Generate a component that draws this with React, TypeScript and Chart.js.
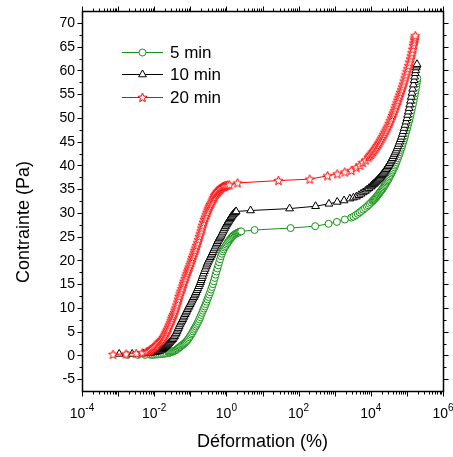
import React, { useEffect, useRef } from 'react';
import { Chart, registerables } from 'chart.js';

Chart.register(...registerables);

const seriesLabels = ['5 min', '10 min', '20 min'];
const seriesColors = ['#149414', '#000000', '#ff0000'];

// Each entry: [log10 of strain (%), stress (Pa)]
const curve5min: [number, number][] = [
  [-2.75, 0.1], [-2.45, 0.1], [-2.25, 0.1], [-2.10, 0.1], [-2.05, 0.12], [-2.00, 0.15], [-1.95, 0.18],
  [-1.90, 0.2], [-1.85, 0.25], [-1.80, 0.28], [-1.75, 0.32], [-1.70, 0.37], [-1.65, 0.42], [-1.60, 0.5],
  [-1.575, 0.57], [-1.55, 0.65], [-1.525, 0.72], [-1.50, 0.8], [-1.475, 0.87], [-1.45, 0.95], [-1.425, 1.02],
  [-1.40, 1.1], [-1.375, 1.25], [-1.35, 1.4], [-1.325, 1.55], [-1.30, 1.7], [-1.275, 1.85], [-1.25, 2.0],
  [-1.225, 2.15], [-1.20, 2.3], [-1.175, 2.45], [-1.15, 2.6], [-1.125, 2.8], [-1.10, 3.0], [-1.075, 3.25],
  [-1.05, 3.5], [-1.025, 3.8], [-1.00, 4.1], [-0.975, 4.4], [-0.95, 4.7], [-0.925, 5.05], [-0.90, 5.4],
  [-0.875, 5.75], [-0.85, 6.1], [-0.825, 6.45], [-0.80, 6.8], [-0.775, 7.2], [-0.75, 7.6], [-0.725, 8.05],
  [-0.70, 8.5], [-0.675, 8.95], [-0.65, 9.4], [-0.625, 9.85], [-0.60, 10.3], [-0.575, 10.8], [-0.55, 11.3],
  [-0.525, 11.8], [-0.50, 12.3], [-0.475, 12.8], [-0.45, 13.3], [-0.425, 13.85], [-0.40, 14.4], [-0.375, 15.0],
  [-0.35, 15.6], [-0.325, 16.3], [-0.30, 17.0], [-0.275, 17.65], [-0.25, 18.3], [-0.225, 18.95], [-0.20, 19.6],
  [-0.175, 20.25], [-0.15, 20.9], [-0.125, 21.4], [-0.10, 21.9], [-0.075, 22.3], [-0.05, 22.7], [-0.025, 23.0],
  [0.00, 23.3], [0.025, 23.6], [0.05, 23.9], [0.075, 24.15], [0.10, 24.4], [0.125, 24.65], [0.15, 24.9],
  [0.175, 25.1], [0.20, 25.3], [0.23, 25.45], [0.26, 25.6], [0.285, 25.7], [0.31, 25.8], [0.335, 25.9],
  [0.36, 26.0], [0.385, 26.05], [0.41, 26.1],
  [0.78, 26.4], [1.78, 26.8], [2.46, 27.2], [2.83, 27.7], [3.06, 28.1], [3.28, 28.6], [3.46, 29.0],
  [3.52, 29.2], [3.58, 29.5], [3.64, 29.8], [3.69, 30.1], [3.74, 30.4], [3.79, 30.7], [3.84, 31.0],
  [3.89, 31.3], [3.93, 31.6], [3.97, 31.9], [4.01, 32.2], [4.05, 32.5], [4.07, 32.65], [4.09, 32.8],
  [4.11, 32.95], [4.13, 33.1], [4.15, 33.3], [4.17, 33.5], [4.19, 33.7], [4.21, 33.9], [4.23, 34.1],
  [4.25, 34.3], [4.27, 34.5], [4.29, 34.7], [4.31, 34.9], [4.33, 35.1], [4.35, 35.35], [4.37, 35.6],
  [4.39, 35.85], [4.41, 36.1], [4.43, 36.35], [4.45, 36.6], [4.47, 36.85], [4.49, 37.1], [4.51, 37.4],
  [4.53, 37.7], [4.55, 38.0], [4.57, 38.3], [4.59, 38.6], [4.61, 38.9], [4.63, 39.25], [4.65, 39.6],
  [4.67, 39.95], [4.69, 40.3], [4.71, 40.7], [4.73, 41.1], [4.75, 41.5], [4.77, 41.9], [4.79, 42.35],
  [4.81, 42.8], [4.83, 43.25], [4.85, 43.7], [4.87, 44.2], [4.89, 44.7], [4.91, 45.2], [4.93, 45.7],
  [4.95, 46.25], [4.97, 46.8], [4.99, 47.35], [5.01, 47.9], [5.03, 48.5], [5.05, 49.1], [5.07, 49.7],
  [5.09, 50.3], [5.11, 50.95], [5.13, 51.6], [5.15, 52.3], [5.17, 53.0], [5.19, 53.75], [5.21, 54.5],
  [5.225, 55.15], [5.24, 55.8], [5.255, 56.5], [5.27, 57.2], [5.28, 57.75], [5.29, 58.3],
];

const curve10min: [number, number][] = [
  [-2.97, 0.3], [-2.61, 0.3], [-2.30, 0.4], [-2.15, 0.5], [-2.10, 0.55], [-2.05, 0.6], [-2.01, 0.65],
  [-1.97, 0.7], [-1.935, 0.77], [-1.90, 0.85], [-1.865, 0.92], [-1.83, 1.0], [-1.80, 1.15], [-1.77, 1.3],
  [-1.74, 1.5], [-1.71, 1.7], [-1.68, 1.9], [-1.65, 2.1], [-1.625, 2.3], [-1.60, 2.5], [-1.575, 2.7],
  [-1.55, 2.9], [-1.52, 3.15], [-1.49, 3.4], [-1.465, 3.7], [-1.44, 4.0], [-1.415, 4.35], [-1.39, 4.7],
  [-1.37, 5.05], [-1.35, 5.4], [-1.33, 5.75], [-1.31, 6.1], [-1.285, 6.5], [-1.26, 6.9], [-1.235, 7.25],
  [-1.21, 7.6], [-1.19, 7.95], [-1.17, 8.3], [-1.145, 8.65], [-1.12, 9.0], [-1.10, 9.35], [-1.08, 9.7],
  [-1.055, 10.05], [-1.03, 10.4], [-1.005, 10.75], [-0.98, 11.1], [-0.955, 11.5], [-0.93, 11.9], [-0.905, 12.25],
  [-0.88, 12.6], [-0.86, 12.95], [-0.84, 13.3], [-0.815, 13.7], [-0.79, 14.1], [-0.765, 14.55], [-0.74, 15.0],
  [-0.72, 15.4], [-0.70, 15.8], [-0.68, 16.25], [-0.66, 16.7], [-0.635, 17.2], [-0.61, 17.7], [-0.585, 18.2],
  [-0.56, 18.7], [-0.54, 19.1], [-0.52, 19.5], [-0.495, 19.9], [-0.47, 20.3], [-0.445, 20.65], [-0.42, 21.0],
  [-0.40, 21.35], [-0.38, 21.7], [-0.355, 22.1], [-0.33, 22.5], [-0.305, 22.9], [-0.28, 23.3], [-0.26, 23.65],
  [-0.24, 24.0], [-0.215, 24.35], [-0.19, 24.7], [-0.17, 24.95], [-0.15, 25.2], [-0.125, 25.6], [-0.10, 26.0],
  [-0.075, 26.4], [-0.05, 26.8], [-0.025, 27.15], [0.00, 27.5], [0.02, 27.75], [0.04, 28.0], [0.065, 28.3],
  [0.09, 28.6], [0.11, 28.85], [0.13, 29.1], [0.155, 29.35], [0.18, 29.6], [0.205, 29.8], [0.23, 30.0],
  [0.25, 30.15], [0.27, 30.3],
  [0.67, 30.5], [1.75, 30.9], [2.47, 31.4], [2.84, 31.9], [3.07, 32.3], [3.26, 32.6], [3.42, 33.0],
  [3.52, 33.2], [3.60, 33.4], [3.67, 33.7], [3.73, 34.0], [3.79, 34.3], [3.85, 34.6], [3.90, 34.9],
  [3.95, 35.2], [4.00, 35.5], [4.025, 35.7], [4.05, 35.9], [4.075, 36.05], [4.10, 36.2], [4.125, 36.4],
  [4.15, 36.6], [4.175, 36.8], [4.20, 37.0], [4.225, 37.2], [4.25, 37.4], [4.275, 37.65], [4.30, 37.9],
  [4.325, 38.15], [4.35, 38.4], [4.375, 38.65], [4.40, 38.9], [4.425, 39.2], [4.45, 39.5], [4.475, 39.8],
  [4.50, 40.1], [4.525, 40.45], [4.55, 40.8], [4.575, 41.15], [4.60, 41.5], [4.625, 41.9], [4.65, 42.3],
  [4.675, 42.7], [4.70, 43.1], [4.725, 43.55], [4.75, 44.0], [4.775, 44.5], [4.80, 45.0], [4.825, 45.5],
  [4.85, 46.0], [4.875, 46.6], [4.90, 47.2], [4.925, 47.85], [4.95, 48.5], [4.975, 49.2], [5.00, 49.9],
  [5.02, 50.6], [5.04, 51.3], [5.06, 52.05], [5.08, 52.8], [5.10, 53.6], [5.12, 54.4], [5.14, 55.25],
  [5.16, 56.1], [5.18, 57.0], [5.20, 57.9], [5.215, 58.65], [5.23, 59.4], [5.245, 60.0], [5.26, 60.6],
  [5.27, 61.0], [5.28, 61.3],
];

const curve20min: [number, number][] = [
  [-3.14, 0.2], [-2.78, 0.3], [-2.50, 0.4], [-2.33, 0.5], [-2.22, 0.7], [-2.18, 0.8], [-2.14, 0.9],
  [-2.105, 1.1], [-2.07, 1.3], [-2.04, 1.5], [-2.01, 1.7], [-1.98, 1.85], [-1.95, 2.0], [-1.92, 2.3],
  [-1.89, 2.6], [-1.86, 2.8], [-1.83, 3.0], [-1.80, 3.2], [-1.77, 3.4], [-1.745, 3.75], [-1.72, 4.1],
  [-1.695, 4.45], [-1.67, 4.8], [-1.65, 5.15], [-1.63, 5.5], [-1.605, 5.95], [-1.58, 6.4], [-1.555, 6.85],
  [-1.53, 7.3], [-1.51, 7.75], [-1.49, 8.2], [-1.465, 8.6], [-1.44, 9.0], [-1.42, 9.5], [-1.40, 10.0],
  [-1.375, 10.6], [-1.35, 11.2], [-1.33, 11.8], [-1.31, 12.4], [-1.285, 12.95], [-1.26, 13.5], [-1.235, 14.05],
  [-1.21, 14.6], [-1.19, 15.1], [-1.17, 15.6], [-1.145, 16.15], [-1.12, 16.7], [-1.095, 17.2], [-1.07, 17.7],
  [-1.05, 18.15], [-1.03, 18.6], [-1.005, 19.1], [-0.98, 19.6], [-0.96, 20.1], [-0.94, 20.6], [-0.915, 21.1],
  [-0.89, 21.6], [-0.87, 22.1], [-0.85, 22.6], [-0.825, 23.15], [-0.80, 23.7], [-0.775, 24.35], [-0.75, 25.0],
  [-0.725, 25.6], [-0.70, 26.2], [-0.68, 26.8], [-0.66, 27.4], [-0.635, 28.0], [-0.61, 28.6], [-0.585, 29.1],
  [-0.56, 29.6], [-0.535, 30.1], [-0.51, 30.6], [-0.49, 31.0], [-0.47, 31.4], [-0.445, 31.75], [-0.42, 32.1],
  [-0.395, 32.5], [-0.37, 32.9], [-0.35, 33.25], [-0.33, 33.6], [-0.305, 33.85], [-0.28, 34.1], [-0.26, 34.3],
  [-0.24, 34.5], [-0.215, 34.7], [-0.19, 34.9], [-0.17, 35.05], [-0.15, 35.2], [-0.125, 35.35], [-0.10, 35.5],
  [-0.08, 35.55], [-0.06, 35.6], [-0.035, 35.7], [-0.01, 35.8], [0.035, 35.85], [0.08, 35.9], [0.31, 36.3],
  [1.44, 36.8], [2.31, 37.1], [2.80, 37.8], [3.07, 38.2], [3.28, 38.6], [3.46, 38.9],
  [3.60, 39.5], [3.70, 40.0], [3.78, 40.6], [3.86, 41.1], [3.93, 41.7], [3.965, 42.0], [4.00, 42.3],
  [4.03, 42.6], [4.06, 42.9], [4.09, 43.2], [4.12, 43.5], [4.15, 43.85], [4.18, 44.2], [4.21, 44.55],
  [4.24, 44.9], [4.27, 45.3], [4.30, 45.7], [4.33, 46.1], [4.36, 46.5], [4.39, 46.95], [4.42, 47.4],
  [4.45, 47.85], [4.48, 48.3], [4.51, 48.85], [4.54, 49.4], [4.57, 49.95], [4.60, 50.5], [4.625, 51.0],
  [4.65, 51.5], [4.675, 52.05], [4.70, 52.6], [4.725, 53.15], [4.75, 53.7], [4.775, 54.25], [4.80, 54.8],
  [4.825, 55.35], [4.85, 55.9], [4.875, 56.5], [4.90, 57.1], [4.925, 57.75], [4.95, 58.4], [4.975, 59.05],
  [5.00, 59.7], [5.025, 60.35], [5.05, 61.0], [5.075, 61.7], [5.10, 62.4], [5.12, 63.05], [5.14, 63.7],
  [5.16, 64.45], [5.18, 65.2], [5.195, 65.8], [5.21, 66.4], [5.22, 66.85], [5.23, 67.3],
];

const yTickValues = [-5, 0, 5, 10, 15, 20, 25, 30, 35, 40, 45, 50, 55, 60, 65, 70];
const xTickExponents = [-4, -2, 0, 2, 4, 6];
const xTitle = 'Déformation (%)';
const yTitle = 'Contrainte (Pa)';

const FONT = '"Liberation Sans", Arial, Helvetica, sans-serif';

function toPoints(curve: [number, number][]) {
  return curve.map(([lg, v]) => ({ x: Math.pow(10, lg), y: v }));
}

function starPath(ctx: CanvasRenderingContext2D, cx: number, cy: number, ro: number, ri: number) {
  ctx.beginPath();
  for (let i = 0; i < 10; i++) {
    const r = i % 2 === 0 ? ro : ri;
    const a = -Math.PI / 2 + (i * Math.PI) / 5;
    const px = cx + r * Math.cos(a);
    const py = cy + r * Math.sin(a);
    if (i === 0) ctx.moveTo(px, py);
    else ctx.lineTo(px, py);
  }
  ctx.closePath();
}

function makeStar(color: string) {
  const c = document.createElement('canvas');
  c.width = 11;
  c.height = 11;
  const ctx = c.getContext('2d')!;
  starPath(ctx, 5.5, 5.8, 4.8, 2.1);
  ctx.fillStyle = '#ffffff';
  ctx.fill();
  ctx.strokeStyle = color;
  ctx.lineWidth = 1;
  ctx.stroke();
  return c;
}

export default function App() {
  const ref = useRef<HTMLCanvasElement | null>(null);

  useEffect(() => {
    document.body.style.margin = '0';
    const canvas = ref.current;
    if (!canvas) return;
    const star = makeStar(seriesColors[2]);

    const framePlugin = {
      id: 'originFrame',
      afterDraw(chart: any) {
        const { ctx, chartArea: a } = chart;
        const xs = chart.scales.x;
        const ys = chart.scales.y;
        ctx.save();
        const L = Math.round(a.left) + 0.5;
        const R = Math.round(a.right) + 0.5;
        const T = Math.round(a.top) + 0.5;
        const B = Math.round(a.bottom) + 0.5;
        ctx.strokeStyle = '#000';
        ctx.lineWidth = 1.5;
        ctx.strokeRect(L, T, R - L, B - T);
        ctx.lineWidth = 1;
        const seg = (x1: number, y1: number, x2: number, y2: number) => {
          ctx.beginPath();
          ctx.moveTo(x1, y1);
          ctx.lineTo(x2, y2);
          ctx.stroke();
        };
        for (let e = -4; e <= 6; e++) {
          for (let m = 1; m <= 9; m++) {
            if (e === 6 && m > 1) break;
            const px = Math.round(xs.getPixelForValue(m * Math.pow(10, e))) + 0.5;
            const len = m === 1 ? 5 : 3;
            seg(px, B, px, B + len);
            seg(px, T, px, T - len);
          }
        }
        for (let v = -5; v <= 70; v += 2.5) {
          const py = Math.round(ys.getPixelForValue(v)) + 0.5;
          const len = v % 5 === 0 ? 5 : 3;
          seg(L - len, py, L, py);
          seg(R, py, R + len, py);
        }
        ctx.fillStyle = '#000';
        ctx.font = `14px ${FONT}`;
        ctx.textAlign = 'right';
        ctx.textBaseline = 'middle';
        yTickValues.forEach((v) => {
          ctx.fillText(String(v), a.left - 7, ys.getPixelForValue(v) + 0.5);
        });
        ctx.textBaseline = 'alphabetic';
        ctx.textAlign = 'left';
        xTickExponents.forEach((e) => {
          const px = xs.getPixelForValue(Math.pow(10, e));
          ctx.font = `14px ${FONT}`;
          const wBase = ctx.measureText('10').width;
          ctx.font = `10px ${FONT}`;
          const expStr = String(e);
          const wExp = ctx.measureText(expStr).width;
          const start = px - (wBase + wExp) / 2;
          ctx.font = `14px ${FONT}`;
          ctx.fillText('10', start, a.bottom + 27);
          ctx.font = `10px ${FONT}`;
          ctx.fillText(expStr, start + wBase, a.bottom + 20);
        });
        ctx.font = `18px ${FONT}`;
        ctx.textAlign = 'center';
        ctx.fillText(xTitle, (a.left + a.right) / 2, 447);
        ctx.save();
        ctx.translate(24, 222);
        ctx.rotate(-Math.PI / 2);
        ctx.textBaseline = 'middle';
        ctx.fillText(yTitle, 0, 0);
        ctx.restore();
        const rows = [52, 74, 97];
        rows.forEach((ry, i) => {
          const col = seriesColors[i];
          ctx.strokeStyle = col;
          ctx.lineWidth = 1;
          seg(122, ry + 0.5, 163, ry + 0.5);
          const cx = 142.5;
          const cy = ry + 0.5;
          if (i === 0) {
            ctx.beginPath();
            ctx.arc(cx, cy, 3.5, 0, Math.PI * 2);
            ctx.fillStyle = '#fff';
            ctx.fill();
            ctx.stroke();
          } else if (i === 1) {
            const r = 4.5;
            ctx.beginPath();
            ctx.moveTo(cx, cy - r);
            ctx.lineTo(cx + r * 0.866, cy + r * 0.5);
            ctx.lineTo(cx - r * 0.866, cy + r * 0.5);
            ctx.closePath();
            ctx.fillStyle = '#fff';
            ctx.fill();
            ctx.stroke();
          } else {
            ctx.drawImage(star, cx - 5.5, cy - 5.5);
          }
          ctx.fillStyle = '#000';
          ctx.font = `17px ${FONT}`;
          ctx.textAlign = 'left';
          ctx.textBaseline = 'middle';
          ctx.fillText(seriesLabels[i], 170, ry + 1);
        });
        ctx.restore();
      },
    };

    const chart = new Chart(canvas, {
      type: 'line',
      data: {
        datasets: [
          {
            label: seriesLabels[0],
            data: toPoints(curve5min),
            borderColor: seriesColors[0],
            backgroundColor: '#ffffff',
            borderWidth: 1,
            pointStyle: 'circle',
            pointRadius: 3.5,
            pointBorderWidth: 1,
            pointBorderColor: seriesColors[0],
            pointBackgroundColor: '#ffffff',
            order: 2,
          },
          {
            label: seriesLabels[1],
            data: toPoints(curve10min),
            borderColor: seriesColors[1],
            backgroundColor: '#ffffff',
            borderWidth: 1,
            pointStyle: 'triangle',
            pointRadius: 4.5,
            pointBorderWidth: 1,
            pointBorderColor: seriesColors[1],
            pointBackgroundColor: '#ffffff',
            order: 1,
          },
          {
            label: seriesLabels[2],
            data: toPoints(curve20min),
            borderColor: seriesColors[2],
            backgroundColor: '#ffffff',
            borderWidth: 1,
            pointStyle: star as any,
            pointRadius: 4.5,
            order: 0,
          },
        ],
      },
      options: {
        responsive: false,
        animation: false,
        events: [],
        layout: { padding: { top: 11, right: 10, left: 0, bottom: 0 } },
        plugins: { legend: { display: false }, tooltip: { enabled: false } },
        scales: {
          x: {
            type: 'logarithmic',
            min: 1e-4,
            max: 1e6,
            grid: { display: false },
            border: { display: false },
            ticks: { display: false },
            afterFit: (s: any) => {
              s.height = 66;
            },
          },
          y: {
            type: 'linear',
            min: -7.5,
            max: 72.5,
            grid: { display: false },
            border: { display: false },
            ticks: { display: false, stepSize: 5 },
            afterFit: (s: any) => {
              s.width = 82;
            },
          },
        },
      },
      plugins: [framePlugin],
    });
    return () => chart.destroy();
  }, []);

  return (
    <div style={{ width: 453, height: 457, background: '#fff' }}>
      <canvas ref={ref} width={453} height={457} style={{ display: 'block' }} />
    </div>
  );
}
